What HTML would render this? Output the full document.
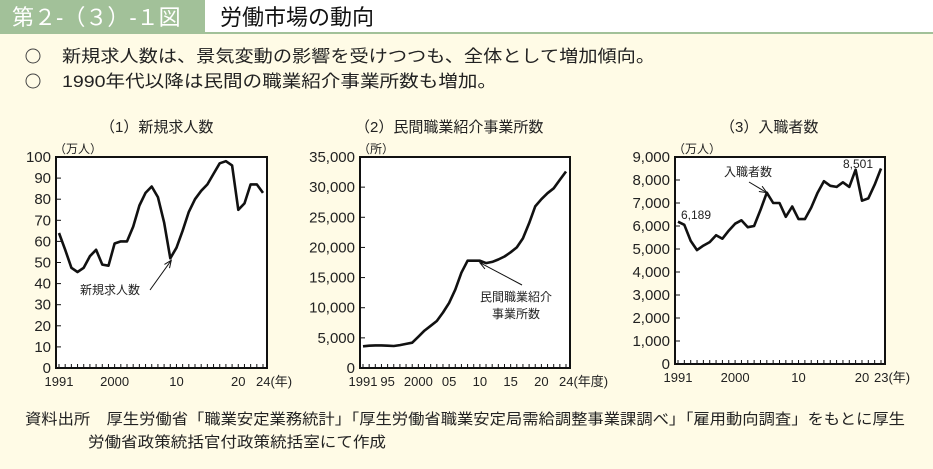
<!DOCTYPE html>
<html><head><meta charset="utf-8"><style>
html,body{margin:0;padding:0;background:#fffbe6;}
svg{display:block;font-family:"Liberation Sans","Noto Sans CJK JP",sans-serif;}
</style></head><body>
<svg id="s" width="933" height="469" viewBox="0 0 933 469">
<rect x="0" y="0" width="933" height="469" fill="#fffbe6"/>
<rect x="0" y="0" width="205" height="34" fill="#a2c199"/>
<rect x="205" y="0" width="728" height="34" fill="#ffffff"/>
<rect x="0" y="32" width="933" height="2" fill="#a2c199"/>
<text x="12" y="25" font-size="22" fill="#fff">第２-（３）-１図</text>
<text x="220" y="25" font-size="22" fill="#111">労働市場の動向</text>
<circle cx="33" cy="56" r="7" fill="none" stroke="#444" stroke-width="1"/>
<circle cx="33" cy="81" r="7" fill="none" stroke="#444" stroke-width="1"/>
<text x="62" y="62" font-size="17" fill="#222" textLength="593" lengthAdjust="spacingAndGlyphs">新規求人数は、景気変動の影響を受けつつも、全体として増加傾向。</text>
<text x="62" y="87" font-size="17" fill="#222" textLength="435" lengthAdjust="spacingAndGlyphs">1990年代以降は民間の職業紹介事業所数も増加。</text>
<text x="100" y="132" font-size="15" fill="#222">（1）新規求人数</text>
<text x="355" y="132" font-size="15" fill="#222">（2）民間職業紹介事業所数</text>
<text x="720" y="132" font-size="15" fill="#222">（3）入職者数</text>
<g id="charts"></g>
<text x="25" y="424" font-size="15" fill="#222" textLength="880" lengthAdjust="spacingAndGlyphs">資料出所　厚生労働省「職業安定業務統計」「厚生労働省職業安定局需給調整事業課調べ」「雇用動向調査」をもとに厚生</text>
<text x="88" y="447" font-size="15" fill="#222" textLength="298" lengthAdjust="spacingAndGlyphs">労働省政策統括官付政策統括室にて作成</text>
</svg>
<script>
const c1Values=[64,56,47.5,45.5,47.5,53,56,49,48.5,59,60,60,67,77,83,86,81,69,52,57,65,74,80,84,87,92,97,98,96,75,78,87,87,83];
const c1Ticks=["0","10","20","30","40","50","60","70","80","90","100"];
const c1XLabels=[[1991,"1991"],[2000,"2000"],[2010,"10"],[2020,"20"],[2024,"24(年)"]];
const c2Values=[3600,3700,3750,3750,3700,3650,3800,4000,4200,5200,6200,7000,7800,9200,10800,13000,15800,17800,17800,17800,17400,17600,18000,18500,19200,20000,21500,24000,26800,28000,29000,29800,31200,32600];
const c2Ticks=["0","5,000","10,000","15,000","20,000","25,000","30,000","35,000"];
const c2XLabels=[[1991,"1991"],[1995,"95"],[2000,"2000"],[2005,"05"],[2010,"10"],[2015,"15"],[2020,"20"],[2024,"24(年度)"]];
const c3Values=[6189,6050,5350,4950,5150,5300,5600,5450,5800,6100,6250,5950,6000,6700,7450,7000,7000,6400,6850,6300,6300,6800,7450,7950,7750,7700,7900,7700,8450,7100,7200,7800,8501];
const c3Ticks=["0","1,000","2,000","3,000","4,000","5,000","6,000","7,000","8,000","9,000"];
const c3XLabels=[[1991,"1991"],[2000,"2000"],[2010,"10"],[2020,"20"],[2023,"23(年)"]];
const NS="http://www.w3.org/2000/svg";
const root=document.getElementById('charts');
function mk(t,a,p){const e=document.createElementNS(NS,t);for(const k in a)e.setAttribute(k,a[k]);(p||root).appendChild(e);return e;}
function chart(id,box,vals,ticks,step,xl,unit,lastYear,unitX){
  const [L,T,R,B]=box, ymax=step*(ticks.length-1);
  const x0=L+3,x1=R-4;
  const xs=y=>x0+(y-1991)*(x1-x0)/(lastYear-1991);
  const ys=v=>B-v/ymax*(B-T);
  const g=mk('g',{});
  
  
  const f=mk('rect',{x:L,y:T,width:R-L,height:B-T,fill:'#fff',stroke:'#111','stroke-width':2},g);
  
  
  ticks.forEach((t,i)=>{const y=ys(i*step);
    const ln=mk('line',{x1:L,x2:L+5,y1:y,y2:y,stroke:'#111','stroke-width':1},g);
    
    
    const tx=mk('text',{x:L-5,y:y+5,'font-size':15,'text-anchor':'end',fill:'#222'},g);tx.textContent=t;
    
    });
  for(let yr=1991;yr<=lastYear;yr++){const x=xs(yr);
    const ln=mk('line',{x1:x,x2:x,y1:B,y2:B-4,stroke:'#111','stroke-width':1},g);
    
    }
  xl.forEach(([yr,lab])=>{const tx=mk('text',{x:xs(yr),y:B+18,'font-size':13,'text-anchor':lab.length>4?'start':'middle',fill:'#222'},g);
    if(lab.length>4)tx.setAttribute('x',xs(yr)-7);
    tx.textContent=lab;
    
    });
  const u=mk('text',{x:unitX,y:T-4,'font-size':12,fill:'#222'},g);u.textContent=unit;
  
  
  const d=vals.map((v,i)=>(i?'L':'M')+xs(1991+i).toFixed(1)+','+ys(v).toFixed(1)).join('');
  const p=mk('path',{d:d,fill:'none',stroke:'#111','stroke-width':2.6,'stroke-linejoin':'round'},g);
  
  
  return {xs,ys,g};
}
function note(g,name,lines,x,y,ax1,ay1,ax2,ay2,anchor){
  lines.forEach((s,i)=>{const t=mk('text',{x:x,y:y+i*17,'font-size':12,fill:'#222','text-anchor':anchor||'start'},g);t.textContent=s;
    
    });
  if(ax1!=null){const l=mk('path',{d:`M${ax1},${ay1}L${ax2},${ay2}`,stroke:'#111','stroke-width':1,fill:'none'},g);
    
    
    const a=Math.atan2(ay2-ay1,ax2-ax1),h=8;
    const ar=mk('path',{d:`M${ax2-h*Math.cos(a-0.4)},${ay2-h*Math.sin(a-0.4)}L${ax2},${ay2}L${ax2-h*Math.cos(a+0.4)},${ay2-h*Math.sin(a+0.4)}`,stroke:'#111','stroke-width':1,fill:'none'},g);
    
    }
}
const a=chart('chart1',[56,157,267,368],c1Values,c1Ticks,10,c1XLabels,'（万人）',2024,54);
note(a.g,'chart1-annotation',['新規求人数'],80,294,150,290,a.xs(2009)+1,a.ys(c1Values[18])+2);
const b=chart('chart2',[360,157,570,368],c2Values,c2Ticks,5000,c2XLabels,'（所）',2024,358);
note(b.g,'chart2-annotation',['民間職業紹介','事業所数'],516,301,522,285,b.xs(2010),b.ys(c2Values[19])+2,'middle');
const c=chart('chart3',[675,157,885,364],c3Values,c3Ticks,1000,c3XLabels,'（万人）',2023,673);
note(c.g,'chart3-annotation',['入職者数'],724,176,749,182,c.xs(2005),c.ys(c3Values[14]));
note(c.g,'chart3-first-value',['6,189'],681,219);
note(c.g,'chart3-last-value',['8,501'],843,168);
</script>
</body></html>
